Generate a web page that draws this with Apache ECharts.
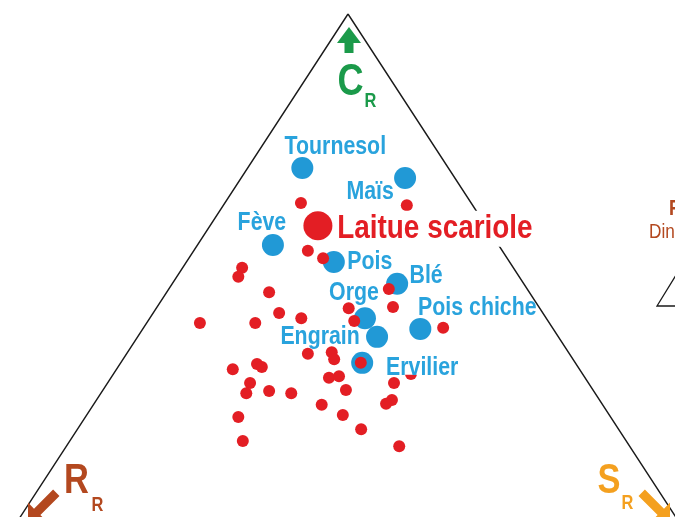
<!DOCTYPE html>
<html><head><meta charset="utf-8">
<script src="https://cdn.jsdelivr.net/npm/echarts@6/dist/echarts.min.js"></script>
<style>html,body{margin:0;padding:0;background:#fff}#c{width:675px;height:517px}</style>
</head><body><div id="c"></div>
<script>
// ---- data: CSR ternary scores (%) ----
const cropNames = ['Tournesol','Maïs','Fève','Pois','Blé','Orge','Engrain','Pois chiche','Ervilier'];
const cropC = [71.0,69.1,56.5,53.3,49.2,42.7,39.2,40.7,34.3];
const cropS = [7.9,23.7,10.9,21.3,32.5,31.1,34.6,40.1,34.9];
const cropR = [21.1,7.2,32.6,25.4,18.3,26.2,26.2,19.2,30.8];

const weedC = [64.4,64.0,55.4,54.0,52.2,50.5,47.6,48.2,44.8,44.6,43.7,42.7,41.8,41.8,42.2,40.9,36.0,36.3,35.0,34.3,33.1,34.1,33.5,30.5,28.6,29.0,28.6,31.5,31.8,29.2,26.4,24.5,21.8,30.5,27.3,26.6,32.2,24.1,19.6,18.6];
const weedS = [11.0,26.5,16.5,19.4,8.6,8.9,14.8,31.8,34.1,27.8,18.2,21.9,7.7,15.7,29.8,43.3,26.2,29.5,30.5,34.7,16.8,19.8,20.8,20.6,21.0,24.1,27.5,31.5,32.8,35.1,33.0,37.0,41.0,41.4,42.7,42.2,43.0,22.1,25.0,48.1];
const weedR = [24.6,9.5,28.1,26.6,39.2,40.6,37.6,20.0,21.1,27.6,38.1,35.4,50.5,42.5,28.0,15.8,37.8,34.2,34.5,31.0,50.1,46.1,45.7,48.9,50.4,46.9,43.9,37.0,35.4,35.7,40.6,38.5,37.2,28.1,30.0,31.2,24.8,53.8,55.4,33.3];

const focusName = 'Laitue scariole';
const focusC = [60.1];
const focusS = [15.6];
const focusR = [24.3];

const vertexC = [100, 0, 0, 100];
const vertexS = [0, 0, 100, 0];
const vertexR = [0, 100, 0, 0];

const axisLetters = ['C', 'R', 'S'];
const axisSub = 'R';
const sideTexts = ['F', 'Din'];

// ---- ternary -> cartesian (x: 0..100 from R to S, y: 0..100 from base to C) ----
function toXY(c, s, r) {
  const t = c + s + r;
  const cn = c / t, sn = s / t;
  return [100 * (sn + cn / 2), 100 * cn];
}

// ---- styles ----
const FONT = '"Liberation Sans", Arial, sans-serif';
const NARROW = 0.82;
const BLUE = '#2199d6';
const BLUE_TXT = '#29a3dd';
const RED = '#e31e24';
const GREEN = '#1b9a4a';
const BROWN = '#b3481f';
const ORANGE = '#f4a01f';

const labelStyle = {
  'Tournesol': {off: [33, -21]},
  'Maïs': {off: [-35, 14]},
  'Fève': {off: [-11, -22]},
  'Pois': {off: [36, 0]},
  'Blé': {off: [29, -8]},
  'Orge': {off: [-11, -25]},
  'Engrain': {off: [-57, 0]},
  'Pois chiche': {off: [57, -21]},
  'Ervilier': {off: [60, 5], bg: true}
};
const focusLabelOff = [117, 3];

const chart = echarts.init(document.getElementById('c'), null, {renderer: 'canvas'});

const cropData = cropNames.map((n, i) => ({name: n, value: toXY(cropC[i], cropS[i], cropR[i])}));
const weedData = weedC.map((c, i) => toXY(c, weedS[i], weedR[i]));
const focusData = focusC.map((c, i) => ({name: focusName, value: toXY(c, focusS[i], focusR[i])}));
const triData = vertexC.map((c, i) => toXY(c, vertexS[i], vertexR[i]));

function arrow(tipX, tipY, rot, hw, hl, sw, L, color) {
  return {
    type: 'polygon', x: tipX, y: tipY, rotation: rot, silent: true, z: 10,
    shape: {points: [[0,0],[hw,hl],[sw,hl],[sw,L],[-sw,L],[-sw,hl],[-hw,hl]]},
    style: {fill: color}
  };
}
function txt(t, x, y, font, color, align, extra) {
  return {
    type: 'text', x: x, y: y, scaleX: NARROW, silent: true, z: 10,
    style: Object.assign({text: t, font: font, fill: color, align: align || 'center', verticalAlign: 'middle'}, extra || {})
  };
}

// plot area = whole canvas; axis ranges chosen so the triangle's base lies just below the picture
chart.setOption({
  animation: false,
  backgroundColor: '#fff',
  grid: {left: 0, right: 0, top: 0, bottom: 0, show: false},
  xAxis: {type: 'value', min: -0.289, max: 97.254, show: false},
  yAxis: {type: 'value', min: 5.273, max: 102.637, show: false},
  series: [
    {
      type: 'line', data: triData, symbol: 'none', z: 1, silent: true,
      lineStyle: {color: '#1a1a1a', width: 1.4}, clip: false
    },
    {
      type: 'scatter', data: cropData, symbolSize: 22, z: 2, silent: true,
      itemStyle: {color: BLUE, opacity: 1}
    },
    {
      type: 'scatter', data: weedData, symbolSize: 12, z: 3, silent: true,
      itemStyle: {color: RED, opacity: 1}
    },
    {
      type: 'scatter', data: focusData, symbolSize: 29, z: 3, silent: true,
      itemStyle: {color: RED, opacity: 1}
    }
  ]
});

// labels placed at the library-computed pixel positions of the points
const labelGraphics = cropData.map(d => {
  const p = chart.convertToPixel({seriesIndex: 1}, d.value);
  const st = labelStyle[d.name];
  return txt(d.name, p[0] + st.off[0], p[1] + st.off[1], 'bold 26px ' + FONT, BLUE_TXT, 'center',
    st.bg ? {backgroundColor: '#fff', padding: [0, 1], lineHeight: 14} : {});
});
const focusGraphics = focusData.map(d => {
  const p = chart.convertToPixel({seriesIndex: 3}, d.value);
  return txt(d.name, p[0] + focusLabelOff[0], p[1] + focusLabelOff[1], 'bold 34px ' + FONT, RED, 'center',
    {backgroundColor: '#fff', padding: [0, 4, 2, 4]});
});

chart.setOption({
  graphic: [
    arrow(349, 27, 0, 12, 16, 4.5, 26, GREEN),
    arrow(28, 521, 3 * Math.PI / 4, 13, 13, 4.5, 40, BROWN),
    arrow(670, 521, -3 * Math.PI / 4, 13, 13, 4.5, 40, ORANGE),
    txt(axisLetters[0], 350.5, 83, 'bold 44px ' + FONT, GREEN),
    txt(axisSub, 370.5, 101, 'bold 20px ' + FONT, GREEN),
    txt(axisLetters[1], 76.5, 481, 'bold 42px ' + FONT, BROWN),
    txt(axisSub, 97.5, 505, 'bold 20px ' + FONT, BROWN),
    txt(axisLetters[2], 609, 481, 'bold 42px ' + FONT, ORANGE),
    txt(axisSub, 627.5, 503, 'bold 20px ' + FONT, ORANGE),
    txt(sideTexts[0], 669, 209, 'bold 22px ' + FONT, BROWN, 'left'),
    txt(sideTexts[1], 649, 232, '21px ' + FONT, BROWN, 'left'),
    {
      type: 'polyline', silent: true, z: 10,
      shape: {points: [[700, 306], [657, 306], [681, 267]]},
      style: {stroke: '#1a1a1a', lineWidth: 1.3, fill: null}
    }
  ].concat(labelGraphics, focusGraphics)
});
</script>
</body></html>
